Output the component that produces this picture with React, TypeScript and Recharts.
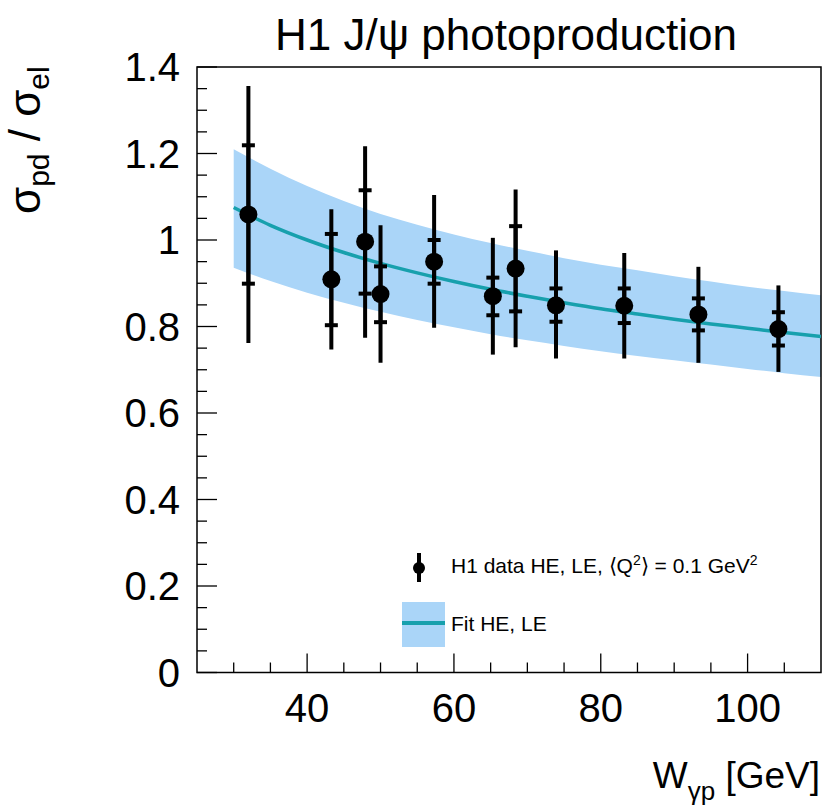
import React from "react"
import {
  Area,
  ComposedChart,
  ErrorBar,
  Line,
  ReferenceArea,
  Scatter,
  XAxis,
  YAxis,
} from "recharts"

// H1 data points (W in GeV, ratio sigma_pd / sigma_el)
const dataW = [32, 43.3, 47.9, 50.0, 57.3, 65.3, 68.4, 73.9, 83.2, 93.3, 104.2]
const dataY = [1.059, 0.909, 0.996, 0.875, 0.95, 0.87, 0.934, 0.849, 0.848, 0.828, 0.794]
const statHi = [1.219, 1.014, 1.115, 0.939, 1.0, 0.913, 1.032, 0.888, 0.888, 0.865, 0.833]
const statLo = [0.899, 0.803, 0.876, 0.81, 0.899, 0.826, 0.835, 0.811, 0.808, 0.791, 0.756]
const totHi = [1.356, 1.071, 1.217, 1.034, 1.104, 1.005, 1.117, 0.976, 0.97, 0.938, 0.895]
const totLo = [0.762, 0.747, 0.774, 0.716, 0.797, 0.735, 0.752, 0.726, 0.726, 0.716, 0.695]

// fit curve and its error band
const fitW = [30, 35, 40, 45, 50, 55, 60, 65, 70, 75, 80, 85, 90, 95, 100, 105, 110]
const fitMid = [1.075, 1.034, 1.0, 0.971, 0.946, 0.924, 0.904, 0.886, 0.87, 0.855, 0.841, 0.829, 0.817, 0.806, 0.796, 0.786, 0.777]
const fitUp = [1.21, 1.165, 1.125, 1.09, 1.06, 1.035, 1.013, 0.993, 0.975, 0.958, 0.943, 0.93, 0.916, 0.904, 0.892, 0.882, 0.872]
const fitLow = [0.936, 0.905, 0.878, 0.855, 0.834, 0.815, 0.798, 0.782, 0.768, 0.755, 0.743, 0.732, 0.722, 0.712, 0.702, 0.692, 0.683]

const xTicks = [30, 35, 40, 45, 50, 55, 60, 65, 70, 75, 80, 85, 90, 95, 100, 105]
const xLabels = [40, 60, 80, 100]
const yTicks = [
  0, 0.05, 0.1, 0.15, 0.2, 0.25, 0.3, 0.35, 0.4, 0.45, 0.5, 0.55, 0.6, 0.65, 0.7,
  0.75, 0.8, 0.85, 0.9, 0.95, 1, 1.05, 1.1, 1.15, 1.2, 1.25, 1.3, 1.35, 1.4,
]
const yLabels = [0, 0.2, 0.4, 0.6, 0.8, 1, 1.2, 1.4]

const FONT = "'Liberation Sans', Arial, Helvetica, sans-serif"
const BAND = "#aad5f8"
const TEAL = "#17a0ad"

const fitData = fitW.map((w, i) => ({ w, mid: fitMid[i], band: [fitLow[i], fitUp[i]] }))
const points = dataW.map((w, i) => ({
  w,
  y: dataY[i],
  stat: [dataY[i] - statLo[i], statHi[i] - dataY[i]],
  tot: [dataY[i] - totLo[i], totHi[i] - dataY[i]],
}))

const YTick = (props: any) => {
  const { x, y, payload } = props
  const major = yLabels.some((v) => Math.abs(v - payload.value) < 1e-6)
  return (
    <g>
      <line x1={x} y1={y} x2={x + (major ? 20 : 10)} y2={y} stroke="#000" strokeWidth={1.3} />
      {major && (
        <text x={x - 17} y={y} textAnchor="end" dominantBaseline="central" fontSize={40} fontFamily={FONT} fill="#000">
          {String(payload.value)}
        </text>
      )}
    </g>
  )
}

const XTick = (props: any) => {
  const { x, y, payload } = props
  const major = xLabels.includes(payload.value)
  return (
    <g>
      <line x1={x} y1={y} x2={x} y2={y - (major ? 19 : 10)} stroke="#000" strokeWidth={1.3} />
      {major && (
        <text x={x} y={y + 49} textAnchor="middle" fontSize={40} fontFamily={FONT} fill="#000">
          {String(payload.value)}
        </text>
      )}
    </g>
  )
}

const Dot = (props: any) => <circle cx={props.cx} cy={props.cy} r={9} fill="#000" />

export default function App() {
  return (
    <div style={{ position: "absolute", left: 0, top: 0, width: 824, height: 811, background: "#fff" }}>
      <ComposedChart width={824} height={811} data={fitData} margin={{ top: 67, right: 3, bottom: 0, left: 0 }}>
        <XAxis
          dataKey="w"
          type="number"
          domain={[25, 110]}
          ticks={xTicks}
          interval={0}
          height={138.5}
          axisLine={false}
          tickLine={false}
          tickSize={0}
          tickMargin={0}
          tick={XTick}
          allowDataOverflow
        />
        <YAxis
          type="number"
          domain={[0, 1.4]}
          ticks={yTicks}
          interval={0}
          width={197}
          axisLine={false}
          tickLine={false}
          tickSize={0}
          tickMargin={0}
          tick={YTick}
          allowDataOverflow
        />
        <Area dataKey="band" type="monotone" fill={BAND} fillOpacity={1} stroke="none" isAnimationActive={false} />
        <Line dataKey="mid" type="monotone" stroke={TEAL} strokeWidth={3.5} dot={false} isAnimationActive={false} />
        <Scatter data={points} dataKey="y" shape={Dot} isAnimationActive={false}>
          <ErrorBar dataKey="tot" direction="y" width={0} stroke="#000" strokeWidth={4} isAnimationActive={false} />
          <ErrorBar dataKey="stat" direction="y" width={6.5} stroke="#000" strokeWidth={4} isAnimationActive={false} />
        </Scatter>
        <ReferenceArea x1={25} x2={110} y1={0} y2={1.4} fill="none" stroke="#000" strokeWidth={1.5} />
      </ComposedChart>

      <svg
        width={824}
        height={811}
        style={{ position: "absolute", left: 0, top: 0, pointerEvents: "none" }}
        fontFamily={FONT}
      >
        <text x={506} y={50} textAnchor="middle" fontSize={44} fill="#000">
          H1 J/ψ photoproduction
        </text>

        <text transform="rotate(-90, 40, 214)" x={40} y={214} fontSize={44} fill="#000">
          σ
          <tspan fontSize={30} dy={9}>pd</tspan>
          <tspan fontSize={44} dy={-9}> / σ</tspan>
          <tspan fontSize={30} dy={9}>el</tspan>
        </text>

        <text x={820} y={788} textAnchor="end" fontSize={37} fill="#000">
          W
          <tspan fontSize={26} dy={12}>γp</tspan>
          <tspan fontSize={37} dy={-12}> [GeV]</tspan>
        </text>

        {/* legend */}
        <line x1={419} y1={553} x2={419} y2={582} stroke="#000" strokeWidth={4} />
        <circle cx={419} cy={568} r={6} fill="#000" />
        <text x={451} y={573} fontSize={21} fill="#000">
          H1 data HE, LE, ⟨Q
          <tspan fontSize={14} dy={-8}>2</tspan>
          <tspan fontSize={21} dy={8}>⟩ = 0.1 GeV</tspan>
          <tspan fontSize={14} dy={-8}>2</tspan>
        </text>
        <rect x={402} y={602} width={43} height={45} fill={BAND} />
        <line x1={402} y1={623} x2={445} y2={623} stroke={TEAL} strokeWidth={4} />
        <text x={451} y={631} fontSize={21} fill="#000">
          Fit HE, LE
        </text>
      </svg>
    </div>
  )
}
